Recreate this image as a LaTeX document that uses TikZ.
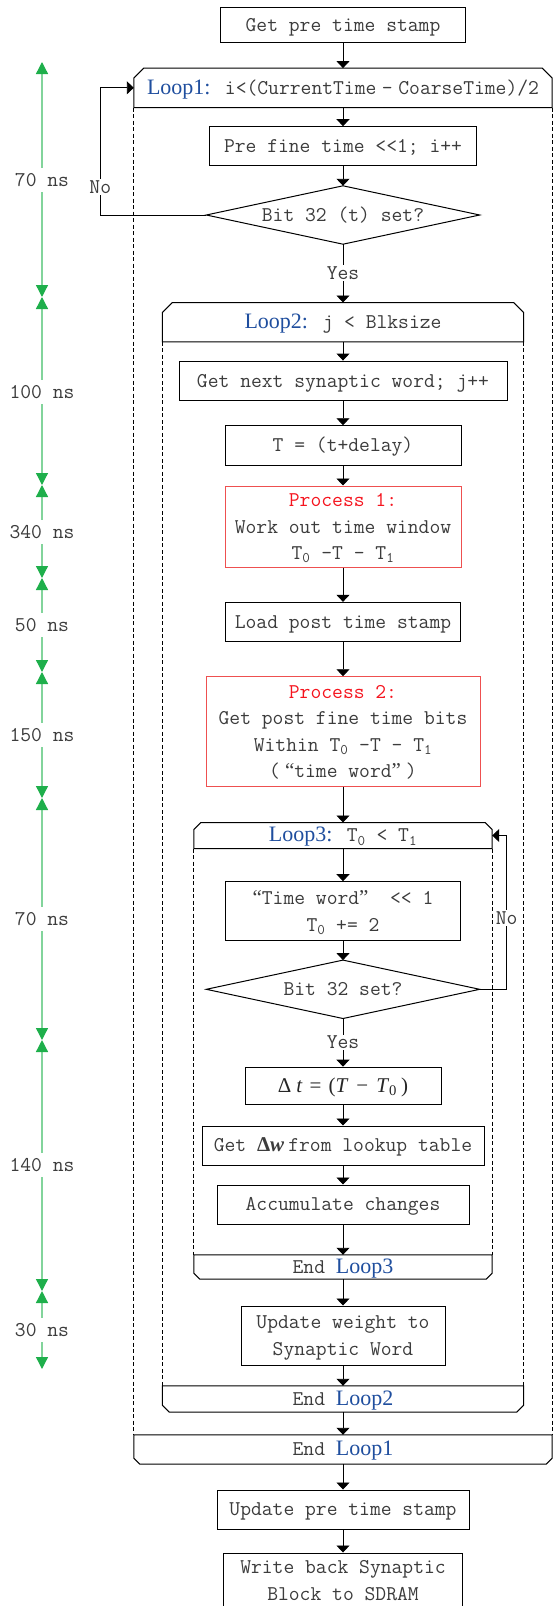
\documentclass[tikz,border=0pt]{standalone}
\usepackage{fontspec}
\newfontfamily\loopfont{Liberation Serif}
\usetikzlibrary{arrows.meta,calc}
\definecolor{txt}{RGB}{60,60,60}
\definecolor{loopblue}{RGB}{31,78,158}
\definecolor{procred}{RGB}{245,20,30}
\definecolor{procbd}{RGB}{238,80,80}
\definecolor{gline}{RGB}{130,212,155}
\definecolor{gtip}{RGB}{30,175,75}
\newcommand{\lp}[1]{{\loopfont\fontsize{22}{26}\selectfont\color{loopblue}#1}}
\newcommand{\myoq}{{\loopfont “}}
\newcommand{\mycq}{{\loopfont ”}}
\begin{document}
\begin{tikzpicture}[x=1pt,y=-1pt,
  every node/.style={font=\fontsize{21}{26.5}\selectfont\ttfamily, text=txt},
  bx/.style={draw=black, line width=1pt, inner sep=0pt, text depth=0pt, align=center},
  one/.style={text height=12.8pt},
  hd/.style={inner sep=0pt, text height=12.8pt, text depth=0pt},
  lab/.style={fill=white, inner sep=1.5pt, text height=12.8pt, text depth=0pt},
  glab/.style={fill=white, inner xsep=2pt, inner ysep=6pt, text height=12.8pt, text depth=0pt},
  arr/.style={line width=0.9pt, -{Triangle[length=7pt,width=13pt]}},
  outl/.style={line width=1pt},
  dsh/.style={line width=0.9pt, dash pattern=on 4pt off 2.5pt},
  gr/.style={draw=gline, line width=1.3pt, {Triangle[length=12pt,width=12pt,color=gtip]}-{Triangle[length=12pt,width=12pt,color=gtip]}}
]
\useasboundingbox (0,0) rectangle (553,1606);

% ---------- main column ----------
\node[bx, one, minimum width=245pt, minimum height=35.4pt] (getpre) at (343,25) {Get pre time stamp};
\node[hd, minimum width=418pt, minimum height=39pt] (l1h) at (343,87.8)
  {\lp{Loop1:} i<(CurrentTime\makebox[22pt]{–}CoarseTime)/2};
\node[bx, one, minimum width=267pt, minimum height=39pt] (pref) at (343,146.2) {Pre fine time <{}<1; i++};
\node[hd, minimum width=273pt, minimum height=58pt] (d1) at (343,215) {Bit 32 (t) set?};
\node[hd, minimum width=361pt, minimum height=39pt] (l2h) at (343,322.2) {\lp{Loop2:} j < Blksize};
\node[bx, one, minimum width=328pt, minimum height=39.7pt] (gnext) at (343,380.9) {Get next synaptic word; j++};
\node[bx, one, minimum width=236pt, minimum height=39.3pt] (tbox) at (343,445.4) {T = (t+delay)};
\node[bx, draw=procbd, minimum width=236pt, minimum height=81pt] (p1) at (343,526.5)
  {\textcolor{procred}{Process 1:}\\Work out time window\\T\textsubscript{0} -T - T\textsubscript{1}};
\node[bx, one, minimum width=235pt, minimum height=38.7pt] (lpost) at (343,621.7) {Load post time stamp};
\node[bx, draw=procbd, minimum width=274pt, minimum height=109.3pt] (p2) at (343,731.4)
  {\textcolor{procred}{Process 2:}\\Get post fine time bits\\Within T\textsubscript{0} -T - T\textsubscript{1}\\(\hspace{5pt}\myoq time word\mycq\hspace{5pt})};
\node[hd, minimum width=298pt, minimum height=25.6pt] (l3h) at (343,835.5) {\lp{Loop3:} T\textsubscript{0} < T\textsubscript{1}};
\node[bx, minimum width=235pt, minimum height=58.6pt] (tw) at (343,911) {\myoq Time word\mycq\ \ <{}< 1\\T\textsubscript{0} += 2};
\node[hd, minimum width=273pt, minimum height=58pt] (d2) at (343,989.3) {Bit 32 set?};
\node[bx, one, minimum width=196pt, minimum height=37.7pt] (dt) at (343,1086)
  {{\loopfont\fontsize{21}{25}\selectfont\color{black!85}Δ\hspace{5pt}\textit{t}\hspace{7pt}=\hspace{7pt}(\textit{T}\hspace{8pt}−\hspace{8pt}\textit{T}\textsubscript{0}\hspace{4pt})}};
\node[bx, one, minimum width=282pt, minimum height=39pt] (gdw) at (343,1145.5)
  {Get {\loopfont\bfseries Δ\textit{w}}\hspace{4pt}from lookup table};
\node[bx, one, minimum width=252pt, minimum height=39pt] (acc) at (343,1204.5) {Accumulate changes};
\node[hd, minimum width=298pt, minimum height=24pt] (el3) at (343,1267) {End \lp{Loop3}};
\node[bx, minimum width=204pt, minimum height=59pt] (updw) at (343,1335.5) {Update weight to\\Synaptic Word};
\node[hd, minimum width=361pt, minimum height=26pt] (el2) at (343,1399) {End \lp{Loop2}};
\node[hd, minimum width=418pt, minimum height=29pt] (el1) at (343,1449.5) {End \lp{Loop1}};
\node[bx, one, minimum width=252pt, minimum height=39pt] (updp) at (343,1509.5) {Update pre time stamp};
\node[bx, minimum width=239pt, minimum height=55pt] (wb) at (343,1580.5) {Write back Synaptic\\Block to SDRAM};

% ---------- diamonds ----------
\draw[outl] (d1.north) -- (d1.east) -- (d1.south) -- (d1.west) -- cycle;
\draw[outl] (d2.north) -- (d2.east) -- (d2.south) -- (d2.west) -- cycle;

% ---------- loop headers (chamfered top) ----------
\draw[outl] (l1h.south west) -- ($(l1h.north west)+(0,10)$) -- ($(l1h.north west)+(10,0)$) -- ($(l1h.north east)+(-10,0)$) -- ($(l1h.north east)+(0,10)$) -- (l1h.south east) -- cycle;
\draw[outl] (l2h.south west) -- ($(l2h.north west)+(0,10)$) -- ($(l2h.north west)+(10,0)$) -- ($(l2h.north east)+(-10,0)$) -- ($(l2h.north east)+(0,10)$) -- (l2h.south east) -- cycle;
\draw[outl] (l3h.south west) -- ($(l3h.north west)+(0,7)$) -- ($(l3h.north west)+(7,0)$) -- ($(l3h.north east)+(-7,0)$) -- ($(l3h.north east)+(0,7)$) -- (l3h.south east) -- cycle;
% ---------- loop ends (chamfered bottom) ----------
\draw[outl] (el3.north west) -- ($(el3.south west)+(0,-6)$) -- ($(el3.south west)+(6,0)$) -- ($(el3.south east)+(-6,0)$) -- ($(el3.south east)+(0,-6)$) -- (el3.north east) -- cycle;
\draw[outl] (el2.north west) -- ($(el2.south west)+(0,-7)$) -- ($(el2.south west)+(7,0)$) -- ($(el2.south east)+(-7,0)$) -- ($(el2.south east)+(0,-7)$) -- (el2.north east) -- cycle;
\draw[outl] (el1.north west) -- ($(el1.south west)+(0,-6)$) -- ($(el1.south west)+(6,0)$) -- ($(el1.south east)+(-6,0)$) -- ($(el1.south east)+(0,-6)$) -- (el1.north east) -- cycle;
% ---------- dashed loop bodies ----------
\draw[dsh] (l1h.south west) -- (el1.north west);
\draw[dsh] (l1h.south east) -- (el1.north east);
\draw[dsh] (l2h.south west) -- (el2.north west);
\draw[dsh] (l2h.south east) -- (el2.north east);
\draw[dsh] (l3h.south west) -- (el3.north west);
\draw[dsh] (l3h.south east) -- (el3.north east);

% ---------- connectors ----------
\draw[arr] (getpre) -- (l1h);
\draw[arr] (l1h) -- (pref);
\draw[arr] (pref) -- (d1);
\draw[arr] (d1) -- node[lab] (yes1) {Yes} (l2h);
\draw[arr] (l2h) -- (gnext);
\draw[arr] (gnext) -- (tbox);
\draw[arr] (tbox) -- (p1);
\draw[arr] (p1) -- (lpost);
\draw[arr] (lpost) -- (p2);
\draw[arr] (p2) -- (l3h);
\draw[arr] (l3h) -- (tw);
\draw[arr] (tw) -- (d2);
\draw[arr] (d2) -- node[lab] (yes2) {Yes} (dt);
\draw[arr] (dt) -- (gdw);
\draw[arr] (gdw) -- (acc);
\draw[arr] (acc) -- (el3);
\draw[arr] (el3) -- (updw);
\draw[arr] (updw) -- (el2);
\draw[arr] (el2) -- (el1);
\draw[arr] (el1) -- (updp);
\draw[arr] (updp) -- (wb);
\draw[arr] (d1.west) -- ++(-106,0) |- node[lab, pos=0.11] (no1) {No} (l1h.west);
\draw[arr] (d2.east) -- ++(27,0) |- node[lab, pos=0.233] (no2) {No} (l3h.east);

% ---------- timing column ----------
\coordinate (g0) at (42,62);
\coordinate (g1) at (42,297);
\coordinate (g2) at (42,485);
\coordinate (g3) at (42,578);
\coordinate (g4) at (42,672);
\coordinate (g5) at (42,798);
\coordinate (g6) at (42,1040);
\coordinate (g7) at (42,1291);
\coordinate (g8) at (42,1369);
\draw[gr] (g0) -- (g1);
\draw[gr] (g1) -- (g2);
\draw[gr] (g2) -- (g3);
\draw[gr] (g3) -- (g4);
\draw[gr] (g4) -- (g5);
\draw[gr] (g5) -- (g6);
\draw[gr] (g6) -- (g7);
\draw[gr] (g7) -- (g8);
\node[glab] (t1) at (42,180) {70 ns};
\node[glab] (t2) at (42,392) {100 ns};
\node[glab] (t3) at (42,532) {340 ns};
\node[glab] (t4) at (42,625) {50 ns};
\node[glab] (t5) at (42,735) {150 ns};
\node[glab] (t6) at (42,919) {70 ns};
\node[glab] (t7) at (42,1165) {140 ns};
\node[glab] (t8) at (42,1330) {30 ns};
\end{tikzpicture}
\end{document}
